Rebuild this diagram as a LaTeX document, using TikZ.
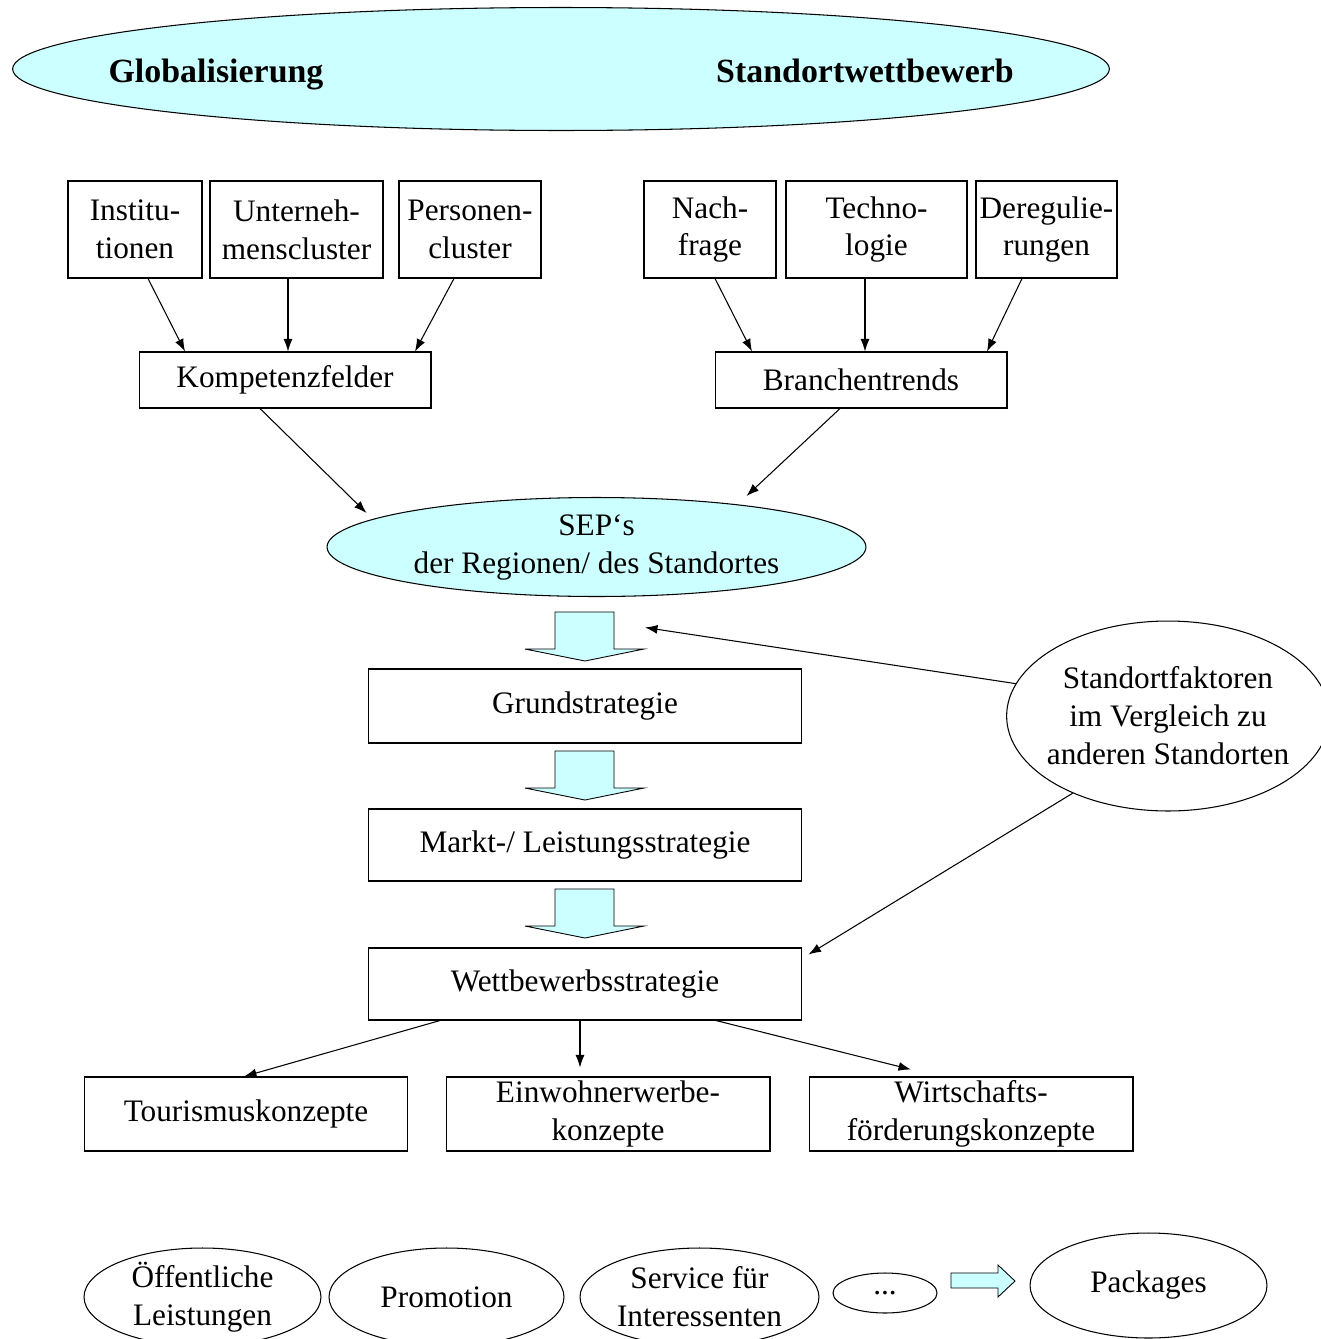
\documentclass[tikz,border=0pt]{standalone}
\usepackage{fontspec}
\setmainfont{Liberation Serif}
\usetikzlibrary{arrows.meta,shapes.geometric,calc}
\definecolor{lightcyan}{HTML}{CCFFFF}

\begin{document}
\begin{tikzpicture}[x=0.02cm,y=-0.02cm,line width=0.6pt,
  box/.style={draw,rectangle,inner sep=0pt,align=center,font=\fontsize{17.8}{21.6}\selectfont},
  oval/.style={draw,ellipse,inner sep=-4pt,align=center,font=\fontsize{17.8}{21.6}\selectfont},
  bold/.style={font=\bfseries\fontsize{19.3}{23}\selectfont,anchor=base},
  arr/.style={-{Latex[length=0.25cm,width=0.18cm]}},
  blockarrow/.style={draw,fill=lightcyan,line width=0.5pt}]
\useasboundingbox (0,0) rectangle (1321,1339);

\node[oval,fill=lightcyan,minimum width=21.94cm,minimum height=2.46cm] (top) at (561,69) {};
\node[bold] (glob) at (216,82) {Globalisierung};
\node[bold] (wettb) at (865,82) {Standortwettbewerb};

\node[box,minimum width=2.68cm,minimum height=1.94cm] (inst) at (135,229.5) {Institu-\\tionen};
\node[box,minimum width=3.46cm,minimum height=1.94cm] (unt) at (296.5,229.5) {Unterneh-\\menscluster};
\node[box,minimum width=2.84cm,minimum height=1.94cm] (pers) at (470,229.5) {Personen-\\cluster};
\node[box,minimum width=2.64cm,minimum height=1.94cm] (nach) at (710,229.5) {Nach-\\frage};
\node[box,minimum width=3.62cm,minimum height=1.94cm] (tech) at (876.5,229.5) {Techno-\\logie};
\node[box,minimum width=2.82cm,minimum height=1.94cm] (dereg) at (1046.5,229.5) {Deregulie-\\rungen};

\node[box,minimum width=5.84cm,minimum height=1.12cm] (komp) at (285,380) {Kompetenzfelder};
\node[box,minimum width=5.84cm,minimum height=1.12cm] (bran) at (861,380) {Branchentrends};

\node[oval,fill=lightcyan,minimum width=10.78cm,minimum height=1.98cm] (sep) at (596.5,547) {SEP‘s\\der Regionen/ des Standortes};

\node[box,minimum width=8.68cm,minimum height=1.48cm] (grund) at (585,706) {Grundstrategie};
\node[box,minimum width=8.68cm,minimum height=1.44cm] (markt) at (585,845) {Markt-/ Leistungsstrategie};
\node[box,minimum width=8.68cm,minimum height=1.44cm] (wett) at (585,984) {Wettbewerbsstrategie};

\node[oval,minimum width=6.44cm,minimum height=3.8cm] (stand) at (1168,716) {Standortfaktoren\\im Vergleich zu\\anderen Standorten};

\node[box,minimum width=6.48cm,minimum height=1.48cm] (tour) at (246,1114) {Tourismuskonzepte};
\node[box,minimum width=6.48cm,minimum height=1.48cm] (einw) at (608,1114) {Einwohnerwerbe-\\konzepte};
\node[box,minimum width=6.48cm,minimum height=1.48cm] (wirt) at (971,1114) {Wirtschafts-\\förderungskonzepte};

\node[oval,minimum width=4.74cm,minimum height=1.96cm] (oeff) at (202.5,1297) {Öffentliche\\Leistungen};
\node[oval,minimum width=4.7cm,minimum height=1.96cm] (promo) at (446.5,1297) {Promotion};
\node[oval,minimum width=4.78cm,minimum height=1.96cm] (serv) at (699.5,1297) {Service für\\Interessenten};
\node[oval,minimum width=2.08cm,minimum height=0.8cm] (dots) at (885,1293) {...};
\node[oval,minimum width=4.74cm,minimum height=2.1cm] (pack) at (1148.5,1285.5) {Packages};

\foreach \t in {612,751,889}
  \draw[blockarrow] (555,\t) -- (614,\t) -- (614,\t+37) -- (644,\t+37) -- (585,\t+49) -- (525,\t+37) -- (555,\t+37) -- cycle;
\draw[blockarrow] (951,1273) -- (998,1273) -- (998,1265) -- (1015,1281) -- (998,1297) -- (998,1288) -- (951,1288) -- cycle;

\draw[arr] ($(inst.south)+(13,0)$) -- ($(komp.north)+(-100,0)$);
\draw[arr] ($(unt.south)+(-8.5,0)$) -- ($(komp.north)+(3,0)$);
\draw[arr] ($(pers.south)+(-16,0)$) -- ($(komp.north)+(130,0)$);
\draw[arr] ($(nach.south)+(5,0)$) -- ($(bran.north)+(-109,0)$);
\draw[arr] ($(tech.south)+(-11.5,0)$) -- ($(bran.north)+(4,0)$);
\draw[arr] ($(dereg.south)+(-24.5,0)$) -- ($(bran.north)+(126,0)$);
\draw[arr] ($(komp.south)+(-25,0)$) -- ($(sep.center)+(-230,-34)$);
\draw[arr] ($(bran.south)+(-21,0)$) -- ($(sep.center)+(150,-51)$);
\draw[arr] (stand.168) -- ($(grund.north)+(60,-41)$);
\draw[arr] (stand.219) -- ($(wett.north east)+(6,7)$);
\draw[arr] ($(wett.south)+(-145,0)$) -- ($(tour.north)+(-2,0)$);
\draw[arr] ($(wett.south)+(-5,0)$) -- ($(einw.north)+(-28,-9)$);
\draw[arr] ($(wett.south)+(131,0)$) -- ($(wirt.north)+(-60,-7)$);
\end{tikzpicture}
\end{document}
